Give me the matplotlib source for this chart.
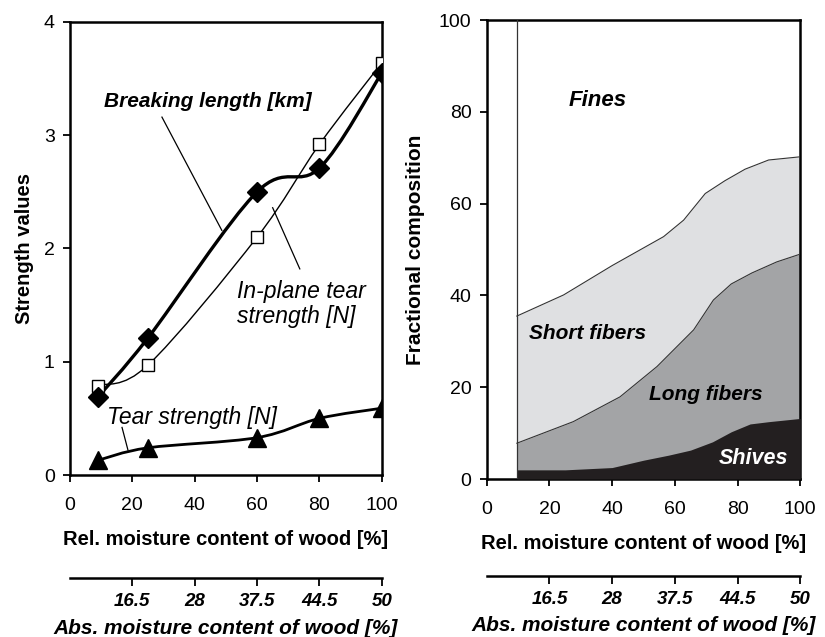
import numpy as np
import matplotlib
matplotlib.use("Agg")
import matplotlib.pyplot as plt
from matplotlib.path import Path
import matplotlib.patches as patches

plt.rcParams['font.family'] = ['Liberation Sans', 'DejaVu Sans']

# left panel: strength values vs rel. moisture content
rel_moist = [9, 25, 60, 80, 100]
breaking_length = [0.69, 1.21, 2.50, 2.71, 3.55]
inplane_tear = [0.79, 0.97, 2.10, 2.92, 3.64]
tear_strength = [0.13, 0.24, 0.33, 0.50, 0.59]

# right panel: cumulative fractional composition
x_shives = [9.6, 25, 40, 50, 58, 65, 72, 78, 84, 90, 100]
shives_top = [2.0, 2.0, 2.5, 4.1, 5.2, 6.3, 8.1, 10.3, 12.0, 12.5, 13.2]
x_long = [9.6, 27.6, 42.5, 54.3, 66, 72.3, 78, 84.6, 92.5, 100]
long_top = [7.8, 12.5, 17.9, 24.5, 32.5, 39.0, 42.5, 44.9, 47.3, 49.0]
x_short = [9.6, 24.5, 40, 56.4, 62.8, 69.7, 76, 82.4, 89.9, 100]
short_top = [35.5, 40.1, 46.5, 52.8, 56.4, 62.2, 65.0, 67.5, 69.5, 70.2]

abs_ticks = [20, 40, 60, 80, 100]
abs_labels = ['16.5', '28', '37.5', '44.5', '50']

c_short = '#dfe0e2'
c_long = '#a3a4a6'
c_shives = '#231f20'


def smooth_path(xs, ys):
    # bezier through the points (excel-like smoothed line)
    pts = np.column_stack([xs, ys]).astype(float)
    verts = [pts[0]]
    codes = [Path.MOVETO]
    n = len(pts)
    for i in range(n - 1):
        p0 = pts[i - 1] if i > 0 else pts[i]
        p1 = pts[i]
        p2 = pts[i + 1]
        p3 = pts[i + 2] if i + 2 < n else pts[i + 1]
        verts += [p1 + (p2 - p0) / 6, p2 - (p3 - p1) / 6, p2]
        codes += [Path.CURVE4] * 3
    return Path(verts, codes)


fig = plt.figure(figsize=(8.25, 6.37), dpi=100)

# ---------------- left panel ----------------
ax1 = fig.add_axes([0.0848, 0.2543, 0.378, 0.7112])
ax1.set_xlim(0, 100)
ax1.set_ylim(0, 4)

for ys, lw in [(breaking_length, 2.4), (inplane_tear, 1.0), (tear_strength, 2.0)]:
    ax1.add_patch(patches.PathPatch(smooth_path(rel_moist, ys), facecolor='none',
                                    edgecolor='black', lw=lw, zorder=2))
ax1.plot(rel_moist, breaking_length, ls='none', marker='D', ms=10, color='black', zorder=4)
ax1.plot(rel_moist, inplane_tear, ls='none', marker='s', ms=9, mfc='white',
         mec='black', mew=1.0, zorder=3)
ax1.plot(rel_moist, tear_strength, ls='none', marker='^', ms=12.5, color='black', zorder=4)

# labels with leader lines
ax1.text(44.2, 3.30, 'Breaking length [km]', ha='center', va='center',
         fontsize=15, fontweight='bold', fontstyle='italic')
ax1.plot([29.5, 48.7], [3.16, 2.16], color='black', lw=0.9)
ax1.text(53.5, 1.51, 'In-plane tear\nstrength [N]', ha='left', va='center',
         fontsize=16.5, fontstyle='italic', linespacing=1.08)
ax1.plot([73.7, 65], [1.82, 2.36], color='black', lw=0.9)
ax1.text(11.9, 0.51, 'Tear strength [N]', ha='left', va='center',
         fontsize=16.5, fontstyle='italic')
ax1.plot([16.7, 18.6], [0.42, 0.22], color='black', lw=0.9)

ax1.set_yticks([0, 1, 2, 3, 4])
ax1.set_xticks([0, 20, 40, 60, 80, 100])
ax1.set_ylabel('Strength values', fontsize=14.5, fontweight='bold', labelpad=7)
ax1.set_xlabel('Rel. moisture content of wood [%]', fontsize=14.5, fontweight='bold', labelpad=11)

# ---------------- right panel ----------------
ax2 = fig.add_axes([0.590, 0.2480, 0.380, 0.7206])
ax2.set_xlim(0, 100)
ax2.set_ylim(0, 100)

ax2.fill_between(x_short, 0, short_top, color=c_short, lw=0, zorder=1)
ax2.fill_between(x_long, 0, long_top, color=c_long, lw=0, zorder=2)
ax2.fill_between(x_shives, 0, shives_top, color=c_shives, lw=0, zorder=3)
ax2.plot(x_short, short_top, color='#333333', lw=0.8, zorder=4)
ax2.plot(x_long, long_top, color='#333333', lw=0.8, zorder=4)
ax2.axvline(x_short[0], color='#333333', lw=0.9, zorder=5)

ax2.text(35.5, 82.4, 'Fines', ha='center', va='center', fontsize=16,
         fontweight='bold', fontstyle='italic')
ax2.text(32.3, 31.8, 'Short fibers', ha='center', va='center', fontsize=15,
         fontweight='bold', fontstyle='italic')
ax2.text(70, 18.5, 'Long fibers', ha='center', va='center', fontsize=15,
         fontweight='bold', fontstyle='italic')
ax2.text(85, 4.4, 'Shives', ha='center', va='center', fontsize=15.5,
         fontweight='bold', fontstyle='italic', color='white', zorder=6)

ax2.set_yticks([0, 20, 40, 60, 80, 100])
ax2.set_xticks([0, 20, 40, 60, 80, 100])
ax2.set_ylabel('Fractional composition', fontsize=15, fontweight='bold', labelpad=10)
ax2.set_xlabel('Rel. moisture content of wood [%]', fontsize=14.5, fontweight='bold', labelpad=11)

for ax in (ax1, ax2):
    for sp in ax.spines.values():
        sp.set_linewidth(1.8)
    ax.tick_params(direction='out', length=5, width=1.3, labelsize=14, colors='black')
    ax.tick_params(axis='x', pad=11)
    ax.tick_params(axis='y', pad=6)

# ---------------- absolute moisture axes ----------------
for left, bottom, width in [(0.0848, 0.0926, 0.378), (0.590, 0.0962, 0.380)]:
    axb = fig.add_axes([left, bottom, width, 0.0001])
    axb.set_xlim(0, 100)
    axb.set_yticks([])
    for name in ('top', 'left', 'right'):
        axb.spines[name].set_visible(False)
    axb.spines['bottom'].set_linewidth(1.8)
    axb.patch.set_visible(False)
    axb.set_xticks(abs_ticks)
    axb.set_xticklabels(abs_labels, fontweight='bold', fontstyle='italic')
    axb.tick_params(direction='out', length=6, width=1.3, labelsize=13.5, pad=5)
    axb.set_xlabel('Abs. moisture content of wood [%]', fontsize=15,
                   fontweight='bold', fontstyle='italic', labelpad=6)

fig.savefig('out.png', dpi=100)
